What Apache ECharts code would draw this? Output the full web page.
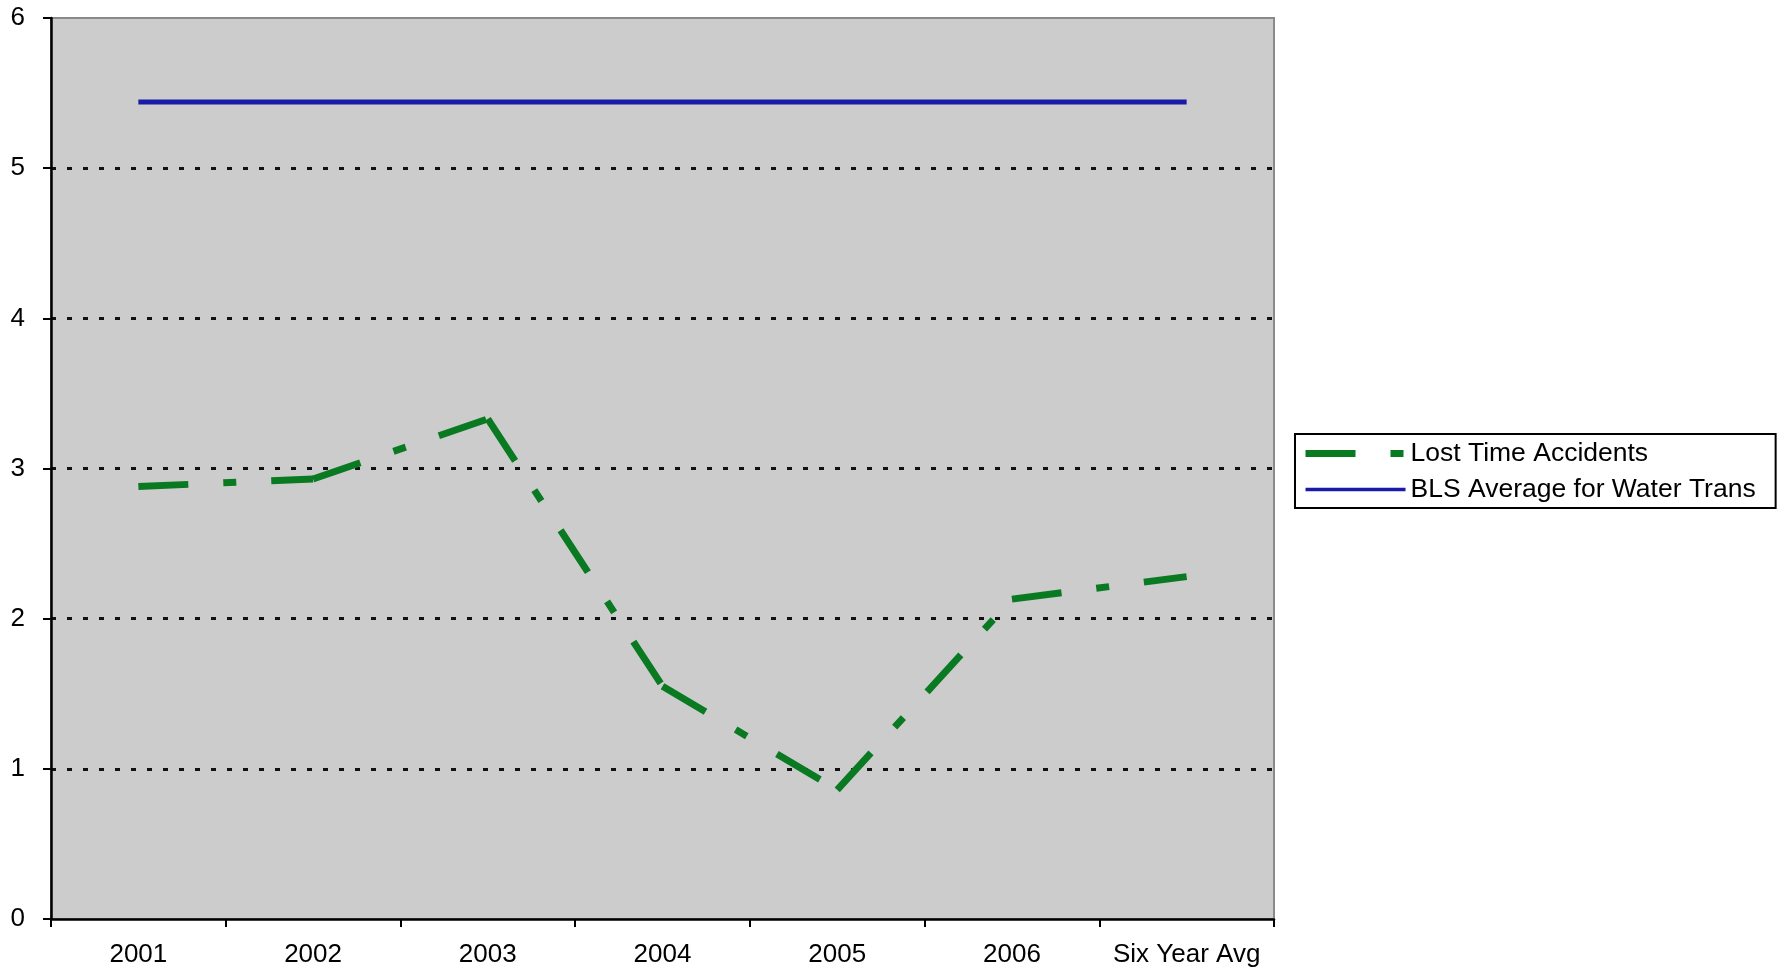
<!DOCTYPE html>
<html>
<head>
<meta charset="utf-8">
<script src="https://cdn.jsdelivr.net/npm/echarts@6/dist/echarts.min.js"></script>
<style>
html,body{margin:0;padding:0;background:#fff;}
#chart{width:1784px;height:974px;}
</style>
</head>
<body>
<div id="chart"></div>
<script>
const categories = ['2001', '2002', '2003', '2004', '2005', '2006', 'Six Year Avg'];
const lostTimeAccidents = [2.88, 2.93, 3.33, 1.55, 0.86, 2.13, 2.28];
const blsAverage = [5.44, 5.44, 5.44, 5.44, 5.44, 5.44, 5.44];
const yTicks = [0, 1, 2, 3, 4, 5, 6];

const FONT = 'Liberation Sans, Arial, sans-serif';
const GREEN = '#0a7a22';
const BLUE = '#1a1aa8';
const GREEN_DASH = [50, 35, 13, 35];

// Excel restarts the dash pattern on each segment: one series per segment
const segmentSeries = [];
for (let i = 0; i < lostTimeAccidents.length - 1; i++) {
  const d = lostTimeAccidents.map((v, j) => (j === i || j === i + 1) ? v : null);
  segmentSeries.push({
    name: 'Lost Time Accidents',
    type: 'line',
    data: d,
    symbol: 'none',
    connectNulls: false,
    lineStyle: { color: GREEN, width: 7, type: GREEN_DASH, cap: 'butt', join: 'miter' },
    itemStyle: { color: GREEN },
    z: 3,
    silent: true
  });
}

const chart = echarts.init(document.getElementById('chart'), null, { renderer: 'canvas' });
chart.setOption({
  animation: false,
  backgroundColor: '#ffffff',
  grid: {
    left: 51, right: 510, top: 18, bottom: 55,
    show: true, backgroundColor: '#cccccc', borderColor: '#8a8a8a', borderWidth: 2
  },
  legend: {
    orient: 'vertical',
    left: 1295, top: 434,
    itemWidth: 100, itemHeight: 26, itemGap: 9,
    padding: [6, 20, 5, 7],
    borderColor: '#000', borderWidth: 2,
    backgroundColor: '#fff',
    selectedMode: false,
    textStyle: { fontFamily: FONT, fontSize: 26.5, color: '#000' },
    itemStyle: { color: 'rgba(0,0,0,0)', borderWidth: 0, opacity: 0 },
    data: [
      { name: 'Lost Time Accidents',
        itemStyle: { color: 'rgba(0,0,0,0)', borderWidth: 0, opacity: 0 },
        lineStyle: { color: GREEN, width: 7, type: GREEN_DASH, opacity: 1 } },
      { name: 'BLS Average for Water Trans',
        itemStyle: { color: 'rgba(0,0,0,0)', borderWidth: 0, opacity: 0 },
        lineStyle: { color: BLUE, width: 3.5, type: 'solid', opacity: 1 } }
    ]
  },
  xAxis: {
    type: 'category',
    data: categories,
    boundaryGap: true,
    axisLine: { lineStyle: { color: '#000', width: 2.5 } },
    axisTick: { show: true, length: 8, interval: 0, lineStyle: { color: '#000', width: 2 } },
    axisLabel: { color: '#000', fontFamily: FONT, fontSize: 26, margin: 23, interval: 0 },
    splitLine: { show: false }
  },
  yAxis: {
    type: 'value',
    min: yTicks[0], max: yTicks[yTicks.length - 1], interval: 1,
    axisLine: { show: true, lineStyle: { color: '#000', width: 2.5 } },
    axisTick: { show: true, length: 8, lineStyle: { color: '#000', width: 2 } },
    axisLabel: { color: '#000', fontFamily: FONT, fontSize: 26, margin: 26 },
    splitLine: { show: true, showMaxLine: false, showMinLine: false,
      lineStyle: { color: '#111', width: 3, type: [5, 11] } }
  },
  series: [
    ...segmentSeries,
    {
      name: 'BLS Average for Water Trans',
      type: 'line',
      data: blsAverage,
      symbol: 'none',
      lineStyle: { color: BLUE, width: 5, type: 'solid' },
      itemStyle: { color: BLUE },
      z: 2,
      silent: true
    }
  ]
});
</script>
</body>
</html>
